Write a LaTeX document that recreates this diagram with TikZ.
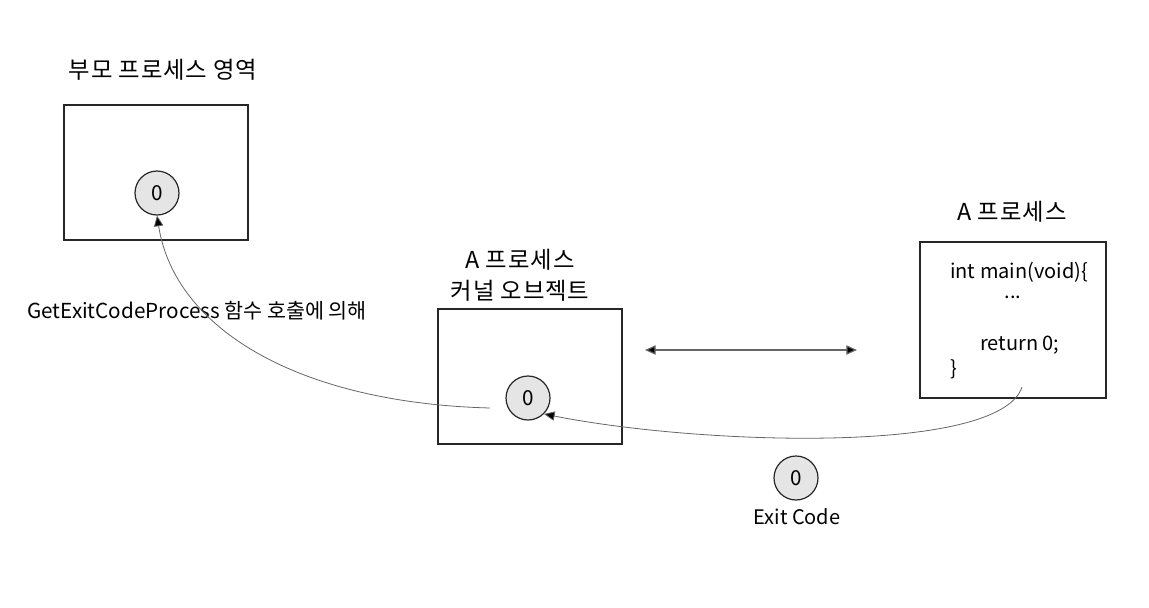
\documentclass[tikz,border=0pt]{standalone}
\usepackage{fontspec}
\setmainfont{Noto Sans CJK KR}
\usetikzlibrary{arrows.meta}
\begin{document}
\begin{tikzpicture}[x=0.75pt,y=-0.75pt,
  box/.style={draw=black!85, line width=1.1pt},
  val/.style={circle, draw=black!85, fill=black!10, line width=0.9pt, minimum size=33pt, inner sep=0pt, font=\fontsize{15.5}{18}\selectfont},
  ttl/.style={font=\fontsize{17.5}{20}\selectfont\addfontfeature{LetterSpace=4}, align=center, inner sep=0pt},
  txt/.style={font=\fontsize{15}{18}\selectfont, inner sep=0pt},
  conn/.style={draw=black!60, line width=0.6pt, -{Triangle[length=8pt,width=7pt,fill=black]}},
  dconn/.style={draw=black!60, line width=0.9pt, {Triangle[length=8pt,width=7pt,fill=black]}-{Triangle[length=8pt,width=7pt,fill=black]}}
]
\useasboundingbox (0,0) rectangle (1149,607);
% parent
\node[ttl] (t1) at (163,70) {부모 프로세스 영역};
\node[box, minimum width=138pt, minimum height=101pt] (b1) at (156,172.5) {};
\node[val] (c1) at (157,193) {0};
% kernel object
\node[ttl] (t2) at (520,275) {A 프로세스\\[3pt]커널 오브젝트};
\node[box, minimum width=138pt, minimum height=101pt] (b2) at (530,376.5) {};
\node[val] (c2) at (528,398) {0};
% process A
\node[ttl] (t3) at (1012,212) {A 프로세스};
\node[box, minimum width=139.5pt, minimum height=117pt] (b3) at (1013,320) {};
\node[txt, anchor=west] (l1) at (950,272) {int main(void)\{};
\node[txt] (l2) at (1013,297) {...};
\node[txt, anchor=west] (l3) at (980,345) {return 0;};
\node[txt, anchor=west] (l4) at (950,369) {\}};
% exit code
\node[val] (c3) at (796,478) {0};
\node[txt] (ec) at (797,517) {Exit Code};
% label
\node[txt, anchor=west, font=\fontsize{15.5}{18}\selectfont] (lab) at (27,311) {GetExitCodeProcess 함수 호출에 의해};
% connectors
\coordinate (s1) at (490,408);
\coordinate (s2) at (1022,387);
\coordinate (d1) at (645,350);
\coordinate (d2) at (857,350);
\draw[dconn] (d1) -- (d2);
\draw[conn] (s1) .. controls (300,403) and (175,330) .. (c1.south);
\draw[conn] (s2) .. controls (1000,455) and (700,445) .. (c2.south east);
\end{tikzpicture}
\end{document}
